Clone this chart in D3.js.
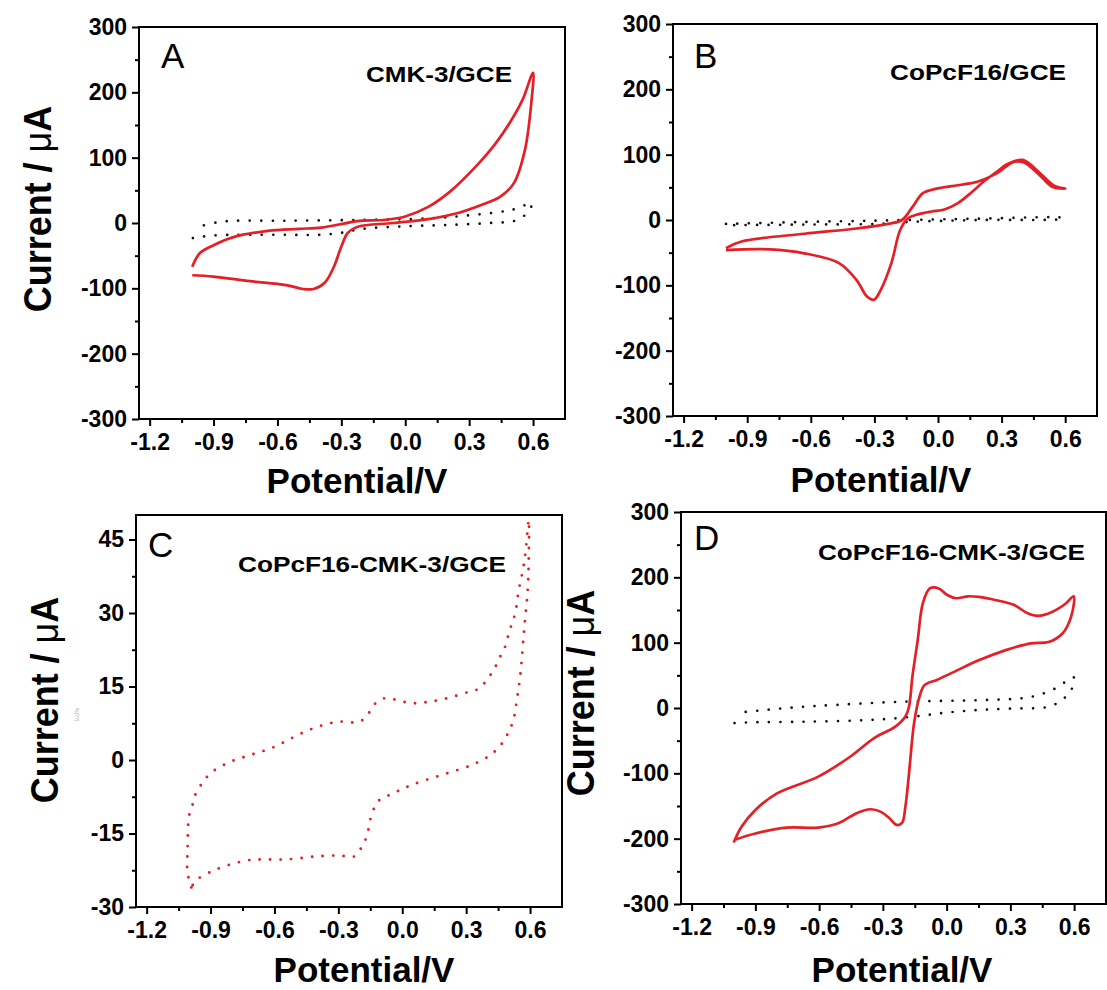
<!DOCTYPE html>
<html>
<head>
<meta charset="utf-8">
<script src="https://cdn.jsdelivr.net/npm/d3@7"></script>
<style>
body { margin: 0; background: #fff; }
text { font-family: "Liberation Sans", Arial, sans-serif; }
</style>
</head>
<body>
<svg id="fig" width="1107" height="990"></svg>
<script>
// ---- tick values / labels ----
var xDomain = [-1.25, 0.75]
var xTickValues = [-1.2, -0.9, -0.6, -0.3, 0.0, 0.3, 0.6]
var xTickLabels = ["-1.2", "-0.9", "-0.6", "-0.3", "0.0", "0.3", "0.6"]
var xMinorValues = [-1.05, -0.75, -0.45, -0.15, 0.15, 0.45]

var yTickValues = [-300, -200, -100, 0, 100, 200, 300]
var yTickLabels = ["-300", "-200", "-100", "0", "100", "200", "300"]
var yMinorValues = [-250, -150, -50, 50, 150, 250]

var yTickValuesC = [-30, -15, 0, 15, 30, 45]
var yTickLabelsC = ["-30", "-15", "0", "15", "30", "45"]
var yMinorValuesC = [-22.5, -7.5, 7.5, 22.5, 37.5]

// ---- curves, [potential V, current uA] ----
var cvA = [[-1.0,-67],[-0.964,-46],[-0.90,-34],[-0.81,-22],[-0.645,-12],[-0.5,-9],[-0.395,-7],[-0.29,-1],[-0.225,3],
  [-0.09,5],[0.0,10],[0.11,25],[0.21,48],[0.344,91],[0.42,120],[0.49,153],[0.55,188],[0.60,230],
  [0.593,188],[0.562,112],[0.51,61],[0.445,40],[0.36,28],[0.243,15],[0.11,6],[-0.058,0],[-0.226,-6],
  [-0.27,-15],[-0.30,-36],[-0.335,-67],[-0.377,-91],[-0.43,-101],[-0.48,-101],[-0.56,-95],[-0.729,-89],
  [-0.90,-82],[-1.0,-80]]
var blankA = [[-0.997,-23],[-0.9,-19],[-0.6,-18],[-0.4,-18],[-0.3,-15],[-0.2,-9],[0.0,-5],[0.2,-3],[0.4,0],
  [0.52,4],[0.571,15],[0.595,30],[0.512,21],[0.445,17],[0.277,11],[0.110,7],[-0.226,4.6],[-0.561,3.5],
  [-0.863,2],[-0.972,-6]]

var cvB = [[-1.0,-43],[-0.927,-33],[-0.63,-21],[-0.384,-13],[-0.236,-6],[-0.17,0],[-0.12,20],[-0.071,41],
  [-0.006,48],[0.11,54],[0.19,59],[0.274,71],[0.357,89],[0.406,88],[0.472,71],[0.538,51],[0.60,48],
  [0.55,52],[0.48,72],[0.40,92],[0.33,86],[0.27,72],[0.22,60],[0.15,40],[0.09,25],[0.03,16],[-0.03,13],
  [-0.09,9],[-0.14,3],[-0.178,-15],[-0.22,-66],[-0.27,-107],[-0.302,-122],[-0.335,-117],[-0.384,-92],
  [-0.467,-66],[-0.631,-51],[-0.795,-45],[-1.0,-46]]
var blankB = [[-1.0,-6],[-0.63,-3],[-0.3,-1],[-0.14,0],[0.19,2],[0.59,3],
  [0.59,2],[0.2,0],[-0.14,-3],[-0.3,-6],[-0.63,-7],[-1.0,-8]]

var cvC = [[-0.99,-26],[-1.008,-23],[-1.008,-18.4],[-1.0,-11.2],[-0.982,-8.8],[-0.969,-6.8],[-0.935,-4.5],
  [-0.90,-2.7],[-0.814,-0.5],[-0.714,1],[-0.604,2.6],[-0.504,4.8],[-0.403,6.7],[-0.302,7.8],[-0.201,7.8],
  [-0.159,9.5],[-0.125,11.6],[-0.083,12.6],[-0.041,12.4],[0.043,11.6],[0.127,11.9],[0.211,12.6],
  [0.312,13.9],[0.362,14.6],[0.396,16.3],[0.430,18.4],[0.455,20.7],[0.48,22.8],[0.496,25.2],[0.513,27.6],
  [0.53,29.9],[0.547,34.7],[0.567,38.9],[0.58,42.9],[0.594,49],[0.594,41.4],[0.589,34.7],[0.572,26.5],
  [0.555,17.7],[0.538,12.2],[0.522,8.2],[0.496,5.4],[0.463,3.1],[0.413,1],[0.328,-1],[0.211,-2.7],
  [0.11,-4.1],[0.043,-5.1],[-0.008,-6.1],[-0.058,-7.1],[-0.108,-8.2],[-0.142,-10.9],[-0.167,-15.6],
  [-0.193,-18],[-0.226,-19.7],[-0.293,-19.5],[-0.41,-19.7],[-0.545,-20.3],[-0.646,-20.3],[-0.714,-20.4],
  [-0.814,-21.4],[-0.898,-22.8],[-0.966,-24.5],[-0.99,-26]]

var cvD = [[-1.002,-206],[-0.966,-182],[-0.90,-156],[-0.80,-131],[-0.604,-105],[-0.456,-75],[-0.341,-46],
  [-0.243,-29],[-0.194,-13],[-0.177,2],[-0.161,48],[-0.136,104],[-0.112,160],[-0.079,183],[-0.037,183],
  [0.003,173],[0.044,168],[0.101,171],[0.151,170],[0.233,165],[0.315,158],[0.381,145],[0.43,141],
  [0.496,147],[0.561,160],[0.598,171],
  [0.586,140],[0.545,114],[0.48,101],[0.397,99],[0.282,89],[0.151,73],[0.02,53],[-0.046,43],[-0.104,35],
  [-0.128,17],[-0.153,-23],[-0.177,-100],[-0.194,-151],[-0.21,-176],[-0.235,-179],[-0.268,-169],
  [-0.309,-159],[-0.358,-155],[-0.424,-161],[-0.506,-176],[-0.604,-183],[-0.752,-183],[-0.90,-192],
  [-1.0,-202]]
var blankD = [[-0.998,-23],[-0.93,-22],[-0.67,-21],[-0.341,-18],[-0.15,-13],[0.0,-7],[0.151,-3],[0.3,-1],
  [0.48,2],[0.545,13],[0.586,27],[0.598,47],[0.512,30],[0.397,17],[0.151,12],[-0.177,10],[-0.506,5],
  [-0.752,0],[-0.974,-7]]

// ---- layout of the four panels ----
var panels = [
  { letter: "A", left: 139, right: 565, top: 27, bottom: 419,
    yDomain: [-300, 300], yTicks: yTickValues, yLabels: yTickLabels, yMinor: yMinorValues,
    red: cvA, redDotted: false, black: blankA,
    name: "CMK-3/GCE", nameX: 366, nameY: 82, nameLen: 146,
    letterX: 161, letterY: 68, yTitleX: 51, yTitleY: 209, xTitleX: 357, xTitleY: 493 },
  { letter: "B", left: 673, right: 1097, top: 24, bottom: 416,
    yDomain: [-300, 300], yTicks: yTickValues, yLabels: yTickLabels, yMinor: yMinorValues,
    red: cvB, redDotted: false, black: blankB,
    name: "CoPcF16/GCE", nameX: 890, nameY: 80, nameLen: 176,
    letterX: 694, letterY: 68, yTitleX: 589, yTitleY: 208, xTitleX: 881, xTitleY: 492, clip: true },
  { letter: "C", left: 136, right: 562, top: 515, bottom: 907,
    yDomain: [-30, 50], yTicks: yTickValuesC, yLabels: yTickLabelsC, yMinor: yMinorValuesC,
    red: cvC, redDotted: true, black: null,
    name: "CoPcF16-CMK-3/GCE", nameX: 238, nameY: 572, nameLen: 268,
    letterX: 148, letterY: 557, yTitleX: 58, yTitleY: 700, xTitleX: 364, xTitleY: 982 },
  { letter: "D", left: 681, right: 1106, top: 512, bottom: 904,
    yDomain: [-300, 300], yTicks: yTickValues, yLabels: yTickLabels, yMinor: yMinorValues,
    red: cvD, redDotted: false, black: blankD,
    name: "CoPcF16-CMK-3/GCE", nameX: 818, nameY: 560, nameLen: 267,
    letterX: 694, letterY: 550, yTitleX: 594, yTitleY: 693, xTitleX: 902, xTitleY: 982 }
]

var red = "#e41f26"
var svg = d3.select("#fig")

svg.append("defs").append("clipPath").attr("id", "clipB")
  .append("rect").attr("x", 565.5).attr("y", 0).attr("width", 100).attr("height", 490)

panels.forEach(drawPanel)

// tiny stray label in panel C
svg.append("text")
  .attr("transform", "translate(75,708) rotate(90)")
  .attr("font-size", 5)
  .attr("fill", "#999")
  .text("%(??)")

function drawPanel(p) {
  var x = d3.scaleLinear().domain(xDomain).range([p.left, p.right])
  var y = d3.scaleLinear().domain(p.yDomain).range([p.bottom, p.top])
  var g = svg.append("g")

  var line = d3.line()
    .x(function (d) { return x(d[0]) })
    .y(function (d) { return y(d[1]) })
    .curve(d3.curveCatmullRom.alpha(0.5))

  if (p.black) {
    g.append("path")
      .attr("d", line(p.black))
      .attr("fill", "none")
      .attr("stroke", "#111")
      .attr("stroke-width", 2.7)
      .attr("stroke-linecap", "round")
      .attr("stroke-dasharray", "0 11.5")
  }

  var rp = g.append("path")
    .attr("d", line(p.red))
    .attr("fill", "none")
    .attr("stroke", red)
    .attr("stroke-linejoin", "round")
  if (p.redDotted) {
    rp.attr("stroke-width", 2.9).attr("stroke-linecap", "round").attr("stroke-dasharray", "0 10.5")
  } else {
    rp.attr("stroke-width", 2.7)
  }

  // axes: minor first, then major with labels
  g.append("g").attr("transform", "translate(0," + p.bottom + ")")
    .call(d3.axisBottom(x).tickValues(xMinorValues).tickSize(4).tickFormat(""))
  g.append("g").attr("transform", "translate(0," + p.bottom + ")")
    .call(d3.axisBottom(x).tickValues(xTickValues).tickSize(7).tickPadding(8)
      .tickFormat(function (d, i) { return xTickLabels[i] }))
  g.append("g").attr("transform", "translate(" + p.left + ",0)")
    .call(d3.axisLeft(y).tickValues(p.yMinor).tickSize(4).tickFormat(""))
  g.append("g").attr("transform", "translate(" + p.left + ",0)")
    .call(d3.axisLeft(y).tickValues(p.yTicks).tickSize(7).tickPadding(5)
      .tickFormat(function (d, i) { return p.yLabels[i] }))

  g.selectAll(".domain").remove()
  g.selectAll(".tick line").attr("stroke", "#000").attr("stroke-width", 2)
  g.selectAll(".tick text")
    .attr("fill", "#000")
    .attr("font-size", 23)
    .attr("font-weight", "bold")

  g.append("rect")
    .attr("x", p.left).attr("y", p.top)
    .attr("width", p.right - p.left).attr("height", p.bottom - p.top)
    .attr("fill", "none").attr("stroke", "#000").attr("stroke-width", 2)

  g.append("text")
    .attr("x", p.letterX).attr("y", p.letterY)
    .attr("font-size", 35)
    .text(p.letter)

  g.append("text")
    .attr("x", p.nameX).attr("y", p.nameY)
    .attr("font-size", 22)
    .attr("font-weight", "bold")
    .attr("textLength", p.nameLen)
    .attr("lengthAdjust", "spacingAndGlyphs")
    .text(p.name)

  var yt = g.append("text")
    .attr("transform", "translate(" + p.yTitleX + "," + p.yTitleY + ") scale(1.1,1) rotate(-90)")
    .attr("text-anchor", "middle")
    .attr("font-size", 36)
    .attr("font-weight", "bold")
  if (p.clip) yt.attr("clip-path", "url(#clipB)")
  yt.append("tspan").text("Current / ")
  yt.append("tspan").attr("font-weight", "normal").text("μ")
  yt.append("tspan").text("A")

  g.append("text")
    .attr("x", p.xTitleX).attr("y", p.xTitleY)
    .attr("text-anchor", "middle")
    .attr("font-size", 35)
    .attr("font-weight", "bold")
    .text("Potential/V")
}
</script>
</body>
</html>
